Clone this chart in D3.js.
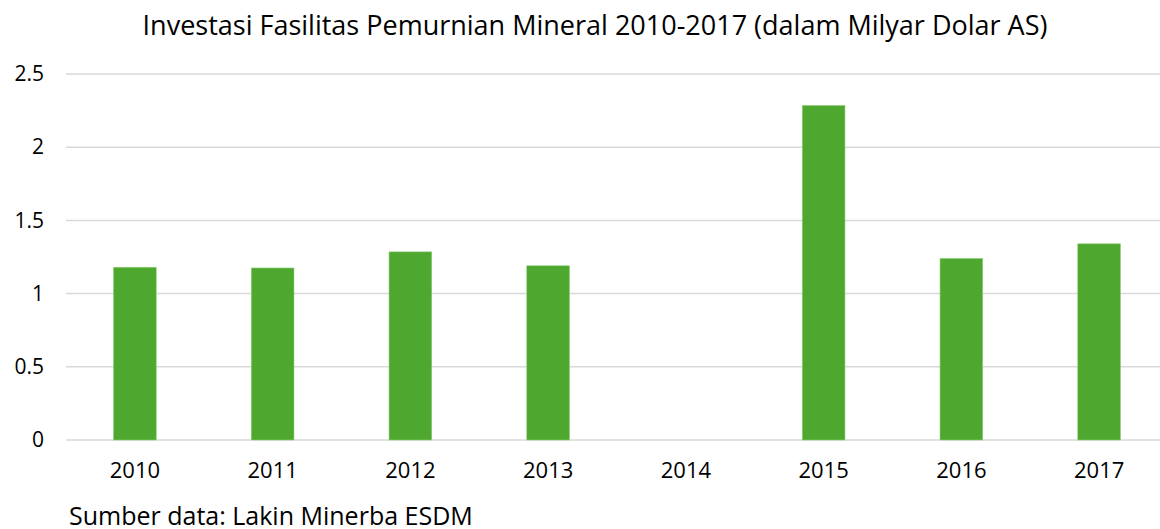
<!DOCTYPE html>
<html>
<head>
<meta charset="utf-8">
<script src="https://cdn.jsdelivr.net/npm/d3@7"></script>
<style>
  body { margin: 0; background: #fff; }
  svg { display: block; }
  text { font-family: "Open Sans", "Noto Sans", sans-serif; }
</style>
</head>
<body>
<div id="chart"></div>
<script>
const years = ["2010", "2011", "2012", "2013", "2014", "2015", "2016", "2017"]
const investment = [1.18, 1.175, 1.285, 1.19, 0, 2.285, 1.24, 1.34]
const yTicks = [0, 0.5, 1, 1.5, 2, 2.5]

const width = 1160
const height = 529
const margin = {top: 74, left: 66, bottom: 89, right: -8}
const innerWidth = width - margin.left - margin.right
const innerHeight = height - margin.top - margin.bottom

const svg = d3.select("#chart").append("svg")
    .attr("width", width)
    .attr("height", height)

const group = svg.append("g")
    .attr("transform", `translate(${margin.left},${margin.top})`)

const x = d3.scaleBand()
    .domain(years).range([0, innerWidth])
    .paddingInner(0.69).paddingOuter(0.345)

const y = d3.scaleLinear()
    .domain([0, 2.5]).range([innerHeight, 0])

// gridlines
group.append("g")
    .selectAll("line").data(yTicks)
    .enter().append("line")
    .attr("x1", 0)
    .attr("x2", width - margin.left)
    .attr("y1", d => y(d))
    .attr("y2", d => y(d))
    .attr("stroke", "#d9d9d9")
    .attr("stroke-width", 1.5)

group.selectAll("rect").data(investment)
    .enter().append("rect")
    .attr("x", (d, i) => x(years[i]))
    .attr("y", d => y(d))
    .attr("width", x.bandwidth())
    .attr("height", d => innerHeight - y(d))
    .attr("fill", "#4ea72e")
    .attr("stroke", "#8fcf7a")
    .attr("stroke-width", 0.6)
    .style("display", d => d === 0 ? "none" : null)

const yAxis = group.append("g")
    .call(d3.axisLeft(y).tickValues(yTicks).tickSize(0).tickPadding(22).tickFormat(d3.format("")))
yAxis.select(".domain").remove()
yAxis.selectAll("text")
    .attr("font-family", "Liberation Sans, Arial, sans-serif")
    .attr("font-size", 21)
    .attr("fill", "#000")

const xAxis = group.append("g")
    .attr("transform", `translate(0,${innerHeight})`)
    .call(d3.axisBottom(x).tickSize(0).tickPadding(22))
xAxis.select(".domain").remove()
xAxis.selectAll("text")
    .attr("font-family", "Liberation Sans, Arial, sans-serif")
    .attr("font-size", 22)
    .attr("fill", "#000")

svg.append("text")
    .attr("x", 595)
    .attr("y", 35)
    .attr("text-anchor", "middle")
    .attr("font-size", 27)
    .attr("fill", "#000")
    .text("Investasi Fasilitas Pemurnian Mineral 2010-2017 (dalam Milyar Dolar AS)")

svg.append("text")
    .attr("x", 69)
    .attr("y", 525)
    .attr("font-size", 25)
    .attr("fill", "#000")
    .text("Sumber data: Lakin Minerba ESDM")
</script>
</body>
</html>
